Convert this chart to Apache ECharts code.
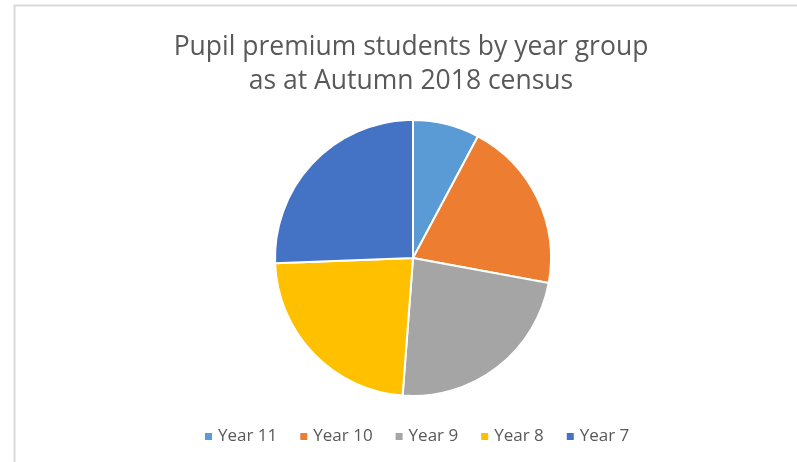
<!DOCTYPE html>
<html>
<head>
<meta charset="utf-8">
<script src="https://cdn.jsdelivr.net/npm/echarts@6/dist/echarts.min.js"></script>
<style>html,body{margin:0;padding:0;background:#fff;}#c{width:797px;height:462px;}</style>
</head>
<body>
<div id="c"></div>
<script>
const categories = ['Year 11', 'Year 10', 'Year 9', 'Year 8', 'Year 7'];
const values = [7.8, 20.1, 23.3, 23.2, 25.6];
const colors = ['#5B9BD5', '#ED7D31', '#A5A5A5', '#FFC000', '#4472C4'];
const titleText = 'Pupil premium students by year group\nas at Autumn 2018 census';

const chart = echarts.init(document.getElementById('c'), null, {renderer: 'canvas'});
chart.setOption({
  animation: false,
  backgroundColor: '#fff',
  title: {
    text: titleText,
    left: 406,
    top: 25,
    textAlign: 'center',
    textStyle: {fontFamily: 'Open Sans', fontSize: 26.5, fontWeight: 'normal', color: '#595959', lineHeight: 34}
  },
  legend: {
    data: categories,
    bottom: 12,
    left: 198,
    icon: 'rect',
    itemWidth: 9,
    itemHeight: 9,
    itemGap: 21,
    textStyle: {fontFamily: 'Open Sans', fontSize: 17, color: '#595959'}
  },
  graphic: [
    {type: 'polyline', shape: {points: [[14.5, 462], [14.5, 5.5], [797, 5.5]]}, style: {stroke: '#D9D9D9', lineWidth: 2, fill: null}, silent: true}
  ],
  series: [{
    type: 'pie',
    center: [413, 258],
    radius: 138,
    startAngle: 90,
    clockwise: true,
    label: {show: false},
    labelLine: {show: false},
    itemStyle: {borderColor: '#fff', borderWidth: 2},
    data: categories.map((c, i) => ({name: c, value: values[i], itemStyle: {color: colors[i]}}))
  }]
});
</script>
</body>
</html>
